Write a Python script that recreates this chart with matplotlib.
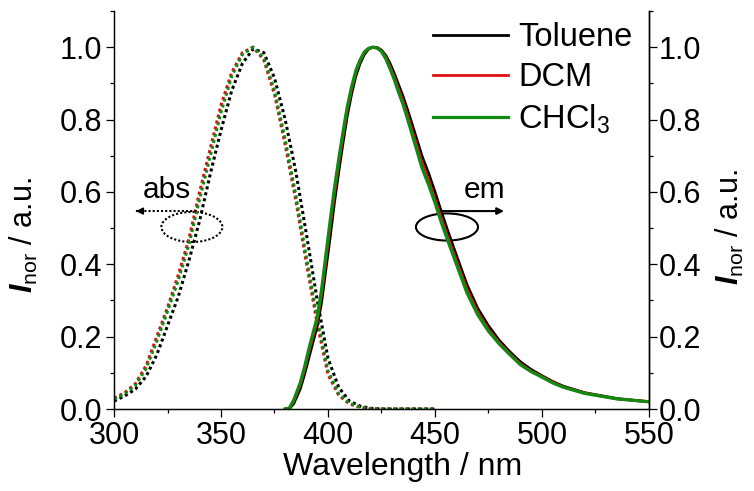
import matplotlib
matplotlib.use("Agg")
import matplotlib.pyplot as plt
from matplotlib.patches import Ellipse
from matplotlib.ticker import MultipleLocator

plt.rcParams['font.family'] = ['Liberation Sans', 'DejaVu Sans']
plt.rcParams['mathtext.fontset'] = 'custom'
plt.rcParams['mathtext.rm'] = 'Liberation Sans'
plt.rcParams['mathtext.it'] = 'Liberation Sans:style=italic:weight=bold'

# ---------------- data ----------------
abs_wl = [300, 305, 310, 315, 320, 325, 330, 335, 340, 345, 350, 355, 360, 365,
          370, 375, 380, 385, 390, 395, 400, 405, 410, 415, 420, 425, 450]
abs_toluene = [0.022, 0.036, 0.055, 0.09, 0.15, 0.23, 0.31, 0.41, 0.52, 0.65, 0.77, 0.88, 0.955, 0.995,
               0.985, 0.915, 0.80, 0.655, 0.48, 0.30, 0.14, 0.06, 0.022, 0.008, 0.002, 0.0, 0.0]
abs_dcm = [0.03, 0.045, 0.07, 0.12, 0.2, 0.28, 0.37, 0.47, 0.6, 0.72, 0.84, 0.93, 0.985, 1.0,
           0.965, 0.87, 0.73, 0.575, 0.40, 0.235, 0.095, 0.038, 0.014, 0.005, 0.001, 0.0, 0.0]
abs_chcl3 = [0.028, 0.042, 0.066, 0.112, 0.188, 0.27, 0.355, 0.455, 0.58, 0.70, 0.82, 0.92, 0.98, 1.0,
             0.97, 0.88, 0.745, 0.59, 0.415, 0.25, 0.105, 0.042, 0.016, 0.005, 0.001, 0.0, 0.0]

em_wl = [380, 382, 384, 387, 389, 391, 393, 395, 397, 399, 401, 403, 405, 407, 409, 411, 413,
         415, 417, 419, 421, 423, 425, 427, 429, 431, 433, 435, 437, 439, 441, 444, 447, 450,
         453, 456, 460, 465, 470, 475, 480, 485, 490, 495, 500, 505, 510, 520, 535, 550]
em_toluene = [0.0, 0.001, 0.015, 0.055, 0.095, 0.14, 0.185, 0.23, 0.295, 0.385, 0.475, 0.57, 0.655,
              0.735, 0.81, 0.87, 0.92, 0.955, 0.98, 0.995, 1.0, 0.999, 0.992, 0.977, 0.955, 0.927,
              0.896, 0.865, 0.83, 0.793, 0.755, 0.698, 0.652, 0.6, 0.545, 0.492, 0.425, 0.343,
              0.278, 0.23, 0.19, 0.158, 0.13, 0.109, 0.092, 0.076, 0.063, 0.045, 0.029, 0.02]
em_dcm = [0.0, 0.002, 0.022, 0.066, 0.108, 0.157, 0.2, 0.245, 0.318, 0.41, 0.505, 0.595, 0.677,
          0.755, 0.826, 0.883, 0.93, 0.962, 0.985, 0.996, 1.0, 0.998, 0.99, 0.972, 0.946, 0.917,
          0.884, 0.852, 0.815, 0.777, 0.738, 0.68, 0.634, 0.58, 0.527, 0.475, 0.41, 0.33,
          0.268, 0.22, 0.184, 0.153, 0.125, 0.105, 0.09, 0.074, 0.061, 0.044, 0.028, 0.02]
em_chcl3 = [0.0, 0.003, 0.025, 0.072, 0.115, 0.165, 0.21, 0.255, 0.33, 0.425, 0.52, 0.61, 0.69,
            0.765, 0.835, 0.89, 0.935, 0.965, 0.987, 0.997, 1.0, 0.997, 0.988, 0.968, 0.94, 0.91,
            0.875, 0.843, 0.805, 0.765, 0.725, 0.665, 0.62, 0.57, 0.515, 0.465, 0.40, 0.32,
            0.26, 0.215, 0.18, 0.15, 0.122, 0.103, 0.088, 0.072, 0.06, 0.043, 0.028, 0.02]

series_names = ["Toluene", "DCM", r"CHCl$_3$"]
colors = ["#000000", "#e01010", "#108a10"]
x_ticks = [300, 350, 400, 450, 500, 550]
y_ticks = [0.0, 0.2, 0.4, 0.6, 0.8, 1.0]

# ---------------- figure ----------------
fig = plt.figure(figsize=(7.54, 4.91), dpi=100)
ax = fig.add_axes([0.1512, 0.167, 0.7095, 0.8106])

abs_series = [abs_toluene, abs_dcm, abs_chcl3]
em_series = [em_toluene, em_dcm, em_chcl3]
em_lw = [2.0, 2.0, 2.3]
for ys, c in zip(abs_series, colors):
    ax.plot(abs_wl, ys, color=c, lw=2.2, ls=(0, (1, 1)))
handles = []
for ys, c, name, lw in zip(em_series, colors, series_names, em_lw):
    h, = ax.plot(em_wl, ys, color=c, lw=lw, label=name)
    handles.append(h)

ax.set_xlim(300, 550)
ax.set_ylim(0, 1.1)
ax.set_xticks(x_ticks)
ax.set_yticks(y_ticks)
ax.set_yticklabels([f"{v:.1f}" for v in y_ticks])
ax.xaxis.set_minor_locator(MultipleLocator(25))
ax.yaxis.set_minor_locator(MultipleLocator(0.1))
ax.spines['top'].set_visible(False)
for s in ['left', 'bottom', 'right']:
    ax.spines[s].set_linewidth(1.0)
ax.tick_params(which='major', direction='out', length=5.5, width=0.9, labelsize=22, pad=3)
ax.tick_params(which='minor', direction='out', length=3.0, width=0.9)

ax2 = ax.twinx()
ax2.set_ylim(0, 1.1)
ax2.set_yticks(y_ticks)
ax2.set_yticklabels([f"{v:.1f}" for v in y_ticks])
ax2.yaxis.set_minor_locator(MultipleLocator(0.1))
ax2.spines['top'].set_visible(False)
ax2.spines['right'].set_linewidth(1.0)
ax2.tick_params(which='major', direction='out', length=5.5, width=0.9, labelsize=22, pad=1.5)
ax2.tick_params(which='minor', direction='out', length=3.0, width=0.9)

ylab = r"$I_{\mathrm{nor}}$ / a.u."
ax.set_ylabel(ylab, fontsize=22)
ax.yaxis.set_label_coords(-0.139, 0.437)
ax2.set_ylabel(ylab, fontsize=22, rotation=90)
ax2.yaxis.set_label_coords(1.122, 0.457)
ax.set_xlabel("Wavelength / nm", fontsize=23)
ax.xaxis.set_label_coords(0.54, -0.108)

leg = ax.legend(handles=handles, loc='upper left', bbox_to_anchor=(0.596, 0.972),
                frameon=False, fontsize=23.5, handlelength=2.3, handletextpad=0.31,
                labelspacing=0.28, borderaxespad=0.0, borderpad=0.0)

# annotations
ax.add_patch(Ellipse((336.4, 0.503), 28.5, 0.083, fill=False, ec='k', lw=1.5, ls=(0, (1, 1))))
ax.plot([310.5, 338.8], [0.547, 0.547], color='k', lw=1.5, ls=(0, (1, 1)))
ax.annotate("", xy=(308.9, 0.547), xytext=(312.0, 0.547),
            arrowprops=dict(arrowstyle='-|>', color='k', lw=1.2, mutation_scale=10))
ax.text(324.8, 0.605, "abs", fontsize=21.5, ha='center', va='center')

ax.add_patch(Ellipse((455.6, 0.503), 29.0, 0.075, fill=False, ec='k', lw=1.5))
ax.annotate("", xy=(483.6, 0.547), xytext=(452.3, 0.547),
            arrowprops=dict(arrowstyle='-|>', color='k', lw=1.5, mutation_scale=10))
ax.text(473.4, 0.605, "em", fontsize=21.5, ha='center', va='center')

fig.savefig("out.png", dpi=100)
